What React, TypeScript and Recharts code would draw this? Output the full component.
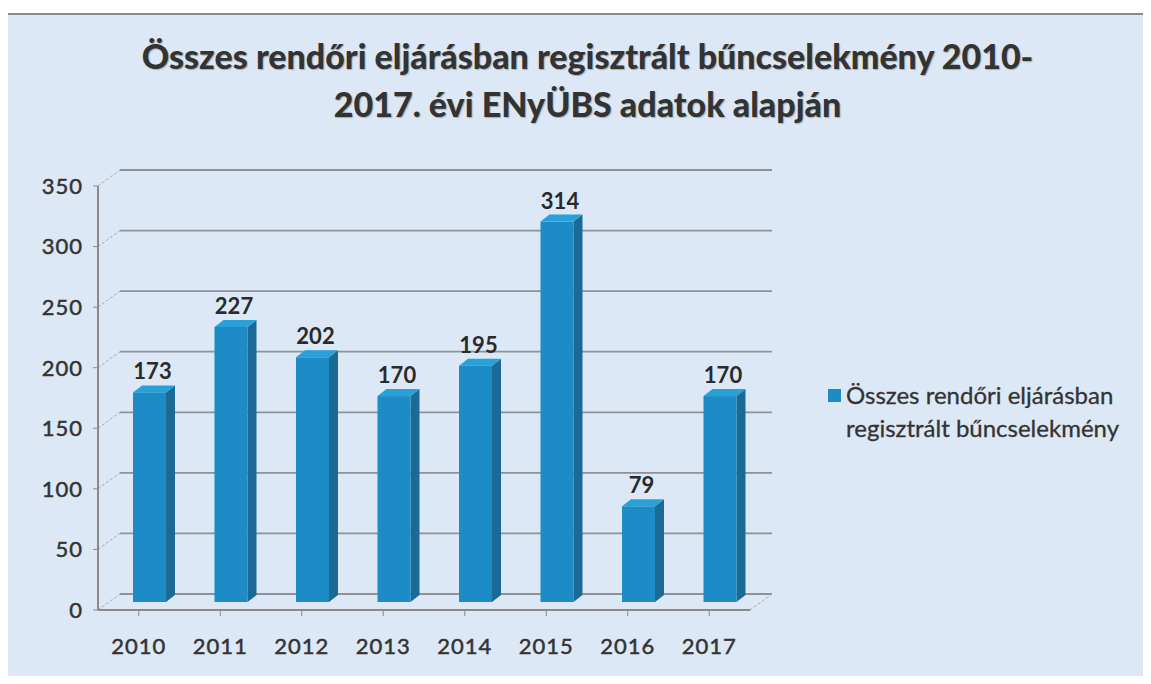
import { BarChart, Bar, XAxis, YAxis, CartesianGrid, LabelList } from 'recharts';

const YEARS = ['2010', '2011', '2012', '2013', '2014', '2015', '2016', '2017'];
const COUNTS = [173, 227, 202, 170, 195, 314, 79, 170];
const Y_TICKS = [0, 50, 100, 150, 200, 250, 300, 350];
const SERIES_NAME = 'Összes rendőri eljárásban regisztrált bűncselekmény';

const data = YEARS.map((year, i) => ({ year, value: COUNTS[i] }));

const FONT = 'Lato, "Open Sans", sans-serif';
const DX = 22; // hátsó fal eltolása
const DY = -16;
const SHIFT_X = DX / 2; // oszlopok a mélység közepén
const SHIFT_Y = DY / 2;

const tickStyle = { fontFamily: FONT, fontSize: 22, fill: '#333', stroke: '#333', strokeWidth: 0.5, letterSpacing: 1 };

// 3D oszlop: elülső lap + oldal + tető
function Bar3D(props: any) {
  const { x, y, width, height } = props;
  if (height == null || height <= 0) return null;
  const sx = x + SHIFT_X;
  const top = y + SHIFT_Y;
  const bottom = y + height + SHIFT_Y;
  const d = 9;
  const h = 7;
  return (
    <g>
      <path
        d={`M${sx + width},${top} L${sx + width + d},${top - h} L${sx + width + d},${bottom - h} L${sx + width},${bottom} Z`}
        fill="#1b6a96"
      />
      <path
        d={`M${sx},${top} L${sx + d},${top - h} L${sx + width + d},${top - h} L${sx + width},${top} Z`}
        fill="#2aa0d8"
      />
      <rect x={sx} y={top} width={width} height={bottom - top} fill="#1d8cc6" />
    </g>
  );
}

function GridLine(props: any) {
  const { x1, y1, x2 } = props;
  const floor = y1 > 600;
  return (
    <g key={props.key}>
      <line x1={x1} y1={y1} x2={x1 + DX} y2={y1 + DY} stroke="#a3a7ab" strokeWidth={1} strokeDasharray="3 2" />
      <line x1={x1 + DX} y1={y1 + DY} x2={x2 + DX} y2={y1 + DY} stroke="#8e9296" strokeWidth={1.8} />
      {floor && <line x1={x2} y1={y1} x2={x2 + DX} y2={y1 + DY} stroke="#a3a7ab" strokeWidth={1} strokeDasharray="3 2" />}
    </g>
  );
}

function ValueLabel(props: any) {
  const { x, y, width, value } = props;
  return (
    <text
      x={x + SHIFT_X + width / 2 + 3}
      y={y + SHIFT_Y - 13}
      textAnchor="middle"
      fontFamily={FONT}
      fontWeight={700}
      fontSize={22}
      fill="#2a2a2a"
    >
      {value}
    </text>
  );
}

export default function App() {
  return (
    <div style={{ position: 'relative', width: 1151, height: 684, margin: -8, background: '#fff', overflow: 'hidden' }}>
      <div
        style={{
          position: 'absolute', left: 6, top: 13, right: 0, bottom: 0,
          background: '#dce8f5', borderLeft: '2px solid #777', borderTop: '2px solid #8a8a8a',
        }}
      />
      <div
        style={{
          position: 'absolute', left: 12, top: 32, width: 1151, textAlign: 'center',
          fontFamily: FONT, fontWeight: 900, fontSize: 34, color: '#333', lineHeight: '48px',
          textShadow: '1px 1px 1px rgba(0,0,0,0.25)',
        }}
      >
        <div>Összes rendőri eljárásban regisztrált bűncselekmény 2010-</div>
        <div>2017. évi ENyÜBS adatok alapján</div>
      </div>

      {/* Jelmagyarázat */}
      <div
        style={{
          position: 'absolute', left: 828, top: 378, display: 'flex', alignItems: 'flex-start',
          fontFamily: FONT, fontSize: 24, color: '#333', lineHeight: '33px', WebkitTextStroke: '0.3px #333',
        }}
      >
        <span style={{ width: 13, height: 13, background: '#1d8cc6', marginTop: 11, marginRight: 5, flexShrink: 0 }} />
        <span style={{ width: 300 }}>
          Összes rendőri eljárásban
          <br />
          regisztrált bűncselekmény
        </span>
      </div>

      <div style={{ position: 'absolute', left: 0, top: 0 }}>
        <BarChart width={1151} height={684} data={data} margin={{ top: 186, right: 401, bottom: 34, left: 38 }} barSize={33}>
          <CartesianGrid vertical={false} horizontal={GridLine} />
          <XAxis
            dataKey="year"
            axisLine={{ stroke: '#8a8a8a', strokeWidth: 2 }}
            tickLine={{ stroke: '#8a8a8a' }}
            tickSize={6}
            tickMargin={22}
            height={40}
            interval={0}
            tick={tickStyle}
          />
          <YAxis
            domain={[0, 350]}
            ticks={Y_TICKS}
            width={60}
            axisLine={{ stroke: '#8a8a8a', strokeWidth: 2 }}
            tickLine={{ stroke: '#8a8a8a' }}
            tickSize={5}
            tickMargin={10}
            tick={tickStyle}
          />
          <Bar dataKey="value" name={SERIES_NAME} fill="#1d8cc6" shape={<Bar3D />} isAnimationActive={false}>
            <LabelList dataKey="value" content={<ValueLabel />} />
          </Bar>
        </BarChart>
      </div>
    </div>
  );
}
